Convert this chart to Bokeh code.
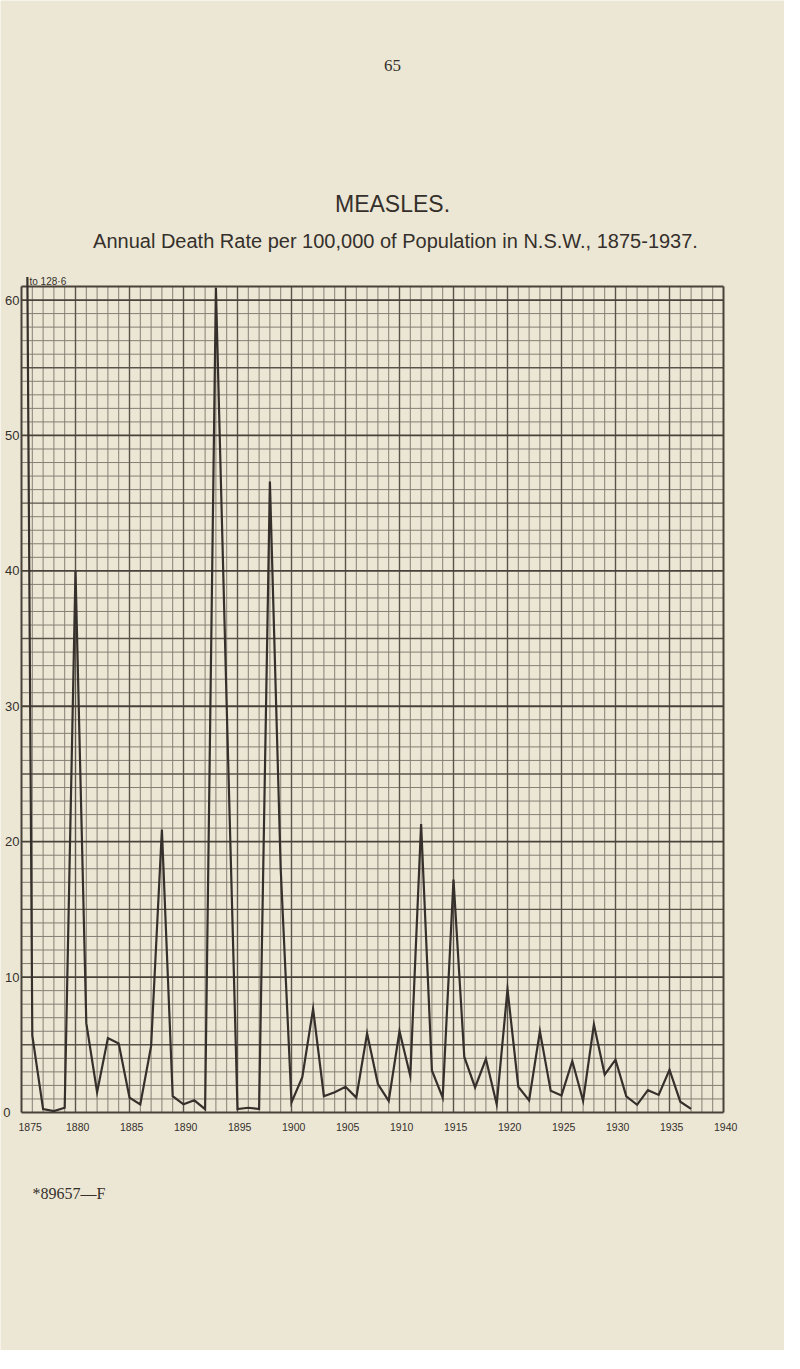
from bokeh.plotting import figure
from bokeh.models import Label, Range1d
from bokeh.embed import file_html
from bokeh.resources import INLINE

# ---------------- data ----------------
years = list(range(1875, 1938))
rates = [
    128.6, 5.7, 0.25, 0.1, 0.35,          # 1875-1879
    40.0, 6.6, 1.5, 5.5, 5.1,             # 1880-1884
    1.1, 0.6, 4.9, 20.9, 1.2,             # 1885-1889
    0.6, 0.9, 0.25, 60.9, 30.0,           # 1890-1894
    0.25, 0.35, 0.25, 46.6, 18.0,         # 1895-1899
    0.75, 2.6, 7.65, 1.2, 1.5,            # 1900-1904
    1.9, 1.1, 5.85, 2.1, 0.86,            # 1905-1909
    6.0, 2.7, 21.3, 3.1, 1.1,             # 1910-1914
    17.2, 4.1, 1.85, 3.95, 0.6,           # 1915-1919
    9.1, 1.9, 0.9, 6.0, 1.6,              # 1920-1924
    1.26, 3.8, 0.86, 6.5, 2.8,            # 1925-1929
    3.9, 1.2, 0.57, 1.65, 1.3,            # 1930-1934
    3.16, 0.8, 0.27,                      # 1935-1937
]
y_ticks = [0, 10, 20, 30, 40, 50, 60]
y_tick_labels = ["0", "10", "20", "30", "40", "50", "60"]
x_ticks = list(range(1875, 1941, 5))
x_tick_labels = [str(t) for t in x_ticks]
page_number = "65"
title = "MEASLES."
subtitle = "Annual Death Rate per 100,000 of Population in N.S.W., 1875-1937."
overflow_note = "to 128·6"
footer = "*89657—F"

# ---------------- layout ----------------
BG = "#ece7d5"
INK = "#35302b"
GRID_MINOR = "#857e73"
GRID_MID = "#5a534a"
GRID_MAJOR = "#48423a"

PX_YEAR = 10.8      # page px per year
PX_UNIT = 13.541    # page px per rate unit
X0_PX, Y0_PX = 29, 1120   # page position of (1875, 0)
W, H = 784, 1350
X_FIRST, X_LAST = 1875, 1940
Y_TOP = 61
CLIP_TOP = 61.7


def yr_at(px):
    return X_FIRST + (px - X0_PX) / PX_YEAR


def val_at(py):
    return (Y0_PX - py) / PX_UNIT


p = figure(
    width=W, height=H,
    x_range=Range1d(yr_at(8), yr_at(8 + W)),
    y_range=Range1d(val_at(8 + H), val_at(8)),
    x_axis_type=None, y_axis_type=None,
    output_backend="svg", toolbar_location=None,
    min_border=0, min_border_left=0, min_border_right=0,
    min_border_top=0, min_border_bottom=0,
)
p.background_fill_color = BG
p.border_fill_color = BG
p.outline_line_color = None
p.grid.visible = False


def vlines(xs, color, width):
    n = len(xs)
    p.segment(x0=xs, y0=[0] * n, x1=xs, y1=[Y_TOP] * n,
              line_color=color, line_width=width)


def hlines(ys, color, width):
    n = len(ys)
    p.segment(x0=[X_FIRST] * n, y0=ys, x1=[X_LAST] * n, y1=ys,
              line_color=color, line_width=width)


yr_all = list(range(X_FIRST, X_LAST + 1))
vlines([y for y in yr_all if y % 5 != 0], GRID_MINOR, 1)
hlines([v for v in range(1, Y_TOP) if v % 5 != 0], GRID_MINOR, 1)
vlines([y for y in yr_all if y % 5 == 0 and y not in (X_FIRST, X_LAST)], GRID_MID, 1.4)
hlines([v for v in range(5, Y_TOP, 10)], GRID_MID, 1.4)
hlines([v for v in range(10, Y_TOP, 10)], GRID_MAJOR, 1.8)
vlines([X_FIRST, X_LAST], GRID_MAJOR, 2)
hlines([0, Y_TOP], GRID_MAJOR, 2)


# data line, cut where it leaves the top of the sheet
def clip_line(xs, ys, top):
    out_x, out_y = [], []
    for i in range(len(xs)):
        x, y = xs[i], ys[i]
        if y <= top:
            if i > 0 and ys[i - 1] > top:
                xp, yp = xs[i - 1], ys[i - 1]
                out_x.append(xp + (x - xp) * (yp - top) / (yp - y))
                out_y.append(top)
            out_x.append(x)
            out_y.append(y)
        else:
            if i > 0 and ys[i - 1] <= top:
                xp, yp = xs[i - 1], ys[i - 1]
                out_x.append(xp + (x - xp) * (top - yp) / (y - yp))
                out_y.append(top)
    return out_x, out_y


lx, ly = clip_line(years, rates, CLIP_TOP)
p.line(lx, ly, line_color=INK, line_width=2.2, line_join="miter")

SANS = "Liberation Sans"
SERIF = "Liberation Serif"

for t, lab in zip(y_ticks, y_tick_labels):
    p.add_layout(Label(x=yr_at(27 if t else 18), y=t, text=lab, text_font=SANS,
                       text_font_size="13px", text_align="right",
                       text_baseline="middle", text_color=INK))

for t, lab in zip(x_ticks, x_tick_labels):
    p.add_layout(Label(x=t + 0.2 if t != X_FIRST else yr_at(26), y=val_at(1134), text=lab,
                       text_font=SANS, text_font_size="10.5px",
                       text_align="center" if t != X_FIRST else "left",
                       text_baseline="middle", text_color=INK))

p.add_layout(Label(x=yr_at(400), y=val_at(73), text=page_number, text_font=SERIF,
                   text_font_size="17px", text_align="center", text_baseline="middle",
                   text_color=INK))
p.add_layout(Label(x=yr_at(400), y=val_at(211), text=title, text_font=SANS,
                   text_font_size="23px", text_align="center", text_baseline="middle",
                   text_color=INK))
p.add_layout(Label(x=yr_at(403), y=val_at(248), text=subtitle, text_font=SANS,
                   text_font_size="20px", text_align="center", text_baseline="middle",
                   text_color=INK))
p.add_layout(Label(x=yr_at(37), y=val_at(289), text=overflow_note, text_font=SANS,
                   text_font_size="10px", text_align="left", text_baseline="middle",
                   text_color=INK))
p.add_layout(Label(x=yr_at(40), y=val_at(1201), text=footer, text_font=SERIF,
                   text_font_size="16px", text_align="left", text_baseline="middle",
                   text_color=INK))

open("out.html", "w").write(file_html(p, INLINE))
